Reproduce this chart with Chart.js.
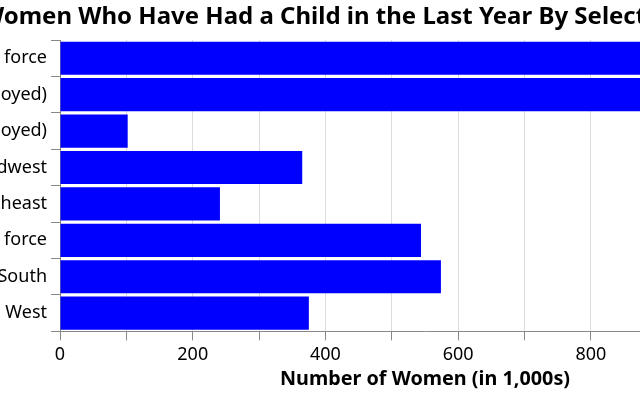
<!DOCTYPE html>
<html>
<head>
<meta charset="utf-8">
<script src="https://cdn.jsdelivr.net/npm/chart.js@4"></script>
<style>
  body { margin: 0; overflow: hidden; background: #fff; }
  /* the reference is a crop of a wider chart, so shift the canvas left */
  #wrap { position: absolute; left: -200px; top: 0; width: 1242px; height: 400px; }
</style>
</head>
<body>
<div id="wrap"><canvas id="chart" width="1242" height="400"></canvas></div>
<script>
// Data (in 1,000s)
const categories = [
    'In labor force',
    'In labor force (employed)',
    'In labor force (unemployed)',
    'Midwest',
    'Northeast',
    'Not in labor force',
    'South',
    'West'
];
const womenCounts = [1011, 909, 102, 365, 241, 544, 574, 375];
const xTickStep = 100;
const xMax = 1100;

const FONT = "'Noto Sans', 'Open Sans', sans-serif";

function initChart() {
    const ctx = document.getElementById('chart').getContext('2d');
    new Chart(ctx, {
        type: 'bar',
        data: {
            labels: categories,
            datasets: [{
                data: womenCounts,
                backgroundColor: '#0000ff',
                barPercentage: 0.91,
                categoryPercentage: 1.0
            }]
        },
        options: {
            indexAxis: 'y',
            responsive: false,
            devicePixelRatio: 1,
            animation: false,
            layout: { padding: 0 },
            plugins: {
                legend: { display: false },
                tooltip: { enabled: false },
                title: {
                    display: true,
                    text: 'Women Who Have Had a Child in the Last Year By Selected Characteristics',
                    color: '#000',
                    font: { family: FONT, size: 24, weight: 'bold' },
                    padding: { top: 2.6, bottom: 8.6 }
                }
            },
            scales: {
                x: {
                    min: 0,
                    max: xMax,
                    ticks: {
                        stepSize: xTickStep,
                        color: '#000',
                        font: { family: FONT, size: 18 },
                        padding: 3.6,
                        maxRotation: 0,
                        autoSkip: false,
                        callback: v => (v % 200 === 0 ? v.toLocaleString('en-US') : '')
                    },
                    grid: { color: '#dddddd', tickColor: '#888888', tickLength: 9, lineWidth: 1 },
                    border: { color: '#888888', width: 1 },
                    title: {
                        display: true,
                        text: 'Number of Women (in 1,000s)',
                        color: '#000',
                        font: { family: FONT, size: 19.8, weight: 'bold', lineHeight: 1 },
                        padding: { top: 0, bottom: 11 }
                    }
                },
                y: {
                    afterFit: scale => { scale.width = 260; },
                    ticks: {
                        color: '#000',
                        font: { family: FONT, size: 18 },
                        padding: 4
                    },
                    grid: { drawOnChartArea: false, tickColor: '#888888', tickLength: 9 },
                    border: { color: '#888888', width: 1 }
                },
                // empty axis on the right so the title lands where the reference has it
                yPad: {
                    axis: 'y',
                    type: 'linear',
                    position: 'right',
                    afterFit: scale => { scale.width = 252; },
                    ticks: { display: false },
                    grid: { display: false },
                    border: { display: false }
                }
            }
        }
    });
}

document.addEventListener('DOMContentLoaded', initChart);
</script>
</body>
</html>
